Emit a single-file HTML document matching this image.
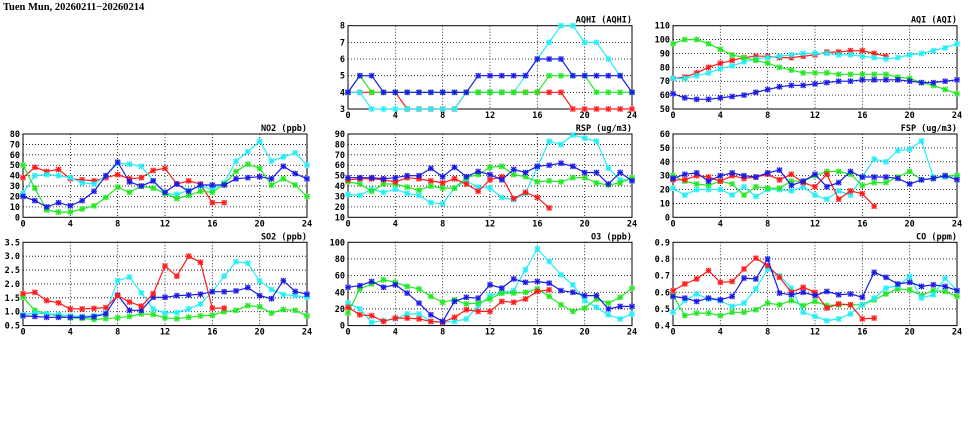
<!DOCTYPE html>
<html><head><meta charset="utf-8"><style>
html,body{margin:0;padding:0;background:#fff;}
svg{display:block;font-family:"DejaVu Sans Mono","Liberation Mono",monospace;}
</style></head><body>
<svg id="c" width="975" height="447">
<text x="3" y="10" font-size="10.5" font-family="Liberation Serif, serif" font-weight="bold">Tuen Mun, 20260211−20260214</text>
</svg>
<script>
const hours=[0,1,2,3,4,5,6,7,8,9,10,11,12,13,14,15,16,17,18,19,20,21,22,23,24];
const colors={red:"#ff1a1a",green:"#22e822",cyan:"#22eef6",blue:"#1a1ae6"};
const aqhiRed=[4,4,4,4,4,3,3,3,3,3,4,4,4,4,4,4,4,4,4,3,3,3,3,3,3];
const aqhiCyan=[4,4,3,3,3,3,3,3,3,3,4,4,4,4,4,5,6,7,8,8,7,7,6,5,4];
const aqhiGreen=[4,5,4,4,4,4,4,4,4,4,4,4,4,4,4,4,4,5,5,5,5,4,4,4,4];
const aqhiBlue=[4,5,5,4,4,4,4,4,4,4,4,5,5,5,5,5,6,6,6,5,5,5,5,5,4];
const aqiRed=[72,73,76,80,83,85,87,88,88,87,87,88,89,91,91,92,92,90,88];
const aqiCyan=[72,72,74,76,79,81,84,86,87,88,89,90,90,90,89,89,88,87,86,87,89,90,92,94,97];
const aqiGreen=[97,100,100,97,93,89,87,85,83,80,78,76,76,76,75,75,75,75,75,73,72,69,67,64,61];
const aqiBlue=[61,58,57,57,58,59,60,62,64,66,67,67,68,69,70,70,71,71,71,71,70,69,69,70,71];
const no2Red=[38,48,44,46,37,36,35,38,41,37,38,45,47,32,35,32,14,14];
const no2Cyan=[23,40,41,40,38,33,32,40,52,51,49,35,23,22,26,30,27,33,54,63,73,54,58,62,50];
const no2Green=[50,28,7,5,5,8,11,19,29,24,30,28,23,18,21,25,24,32,44,51,47,31,37,31,20];
const no2Blue=[20,16,10,14,11,16,25,40,53,34,30,35,24,32,25,31,31,31,37,38,39,37,49,42,37];
const rspRed=[46,47,47,46,44,48,47,45,43,47,42,35,46,49,28,34,29,19];
const rspCyan=[32,31,37,34,37,33,31,24,23,38,45,39,38,29,27,33,58,83,80,89,86,83,57,46,46];
const rspGreen=[44,42,35,42,42,39,36,40,38,38,48,51,58,59,51,49,44,45,44,48,48,43,41,43,48];
const rspBlue=[48,48,48,47,48,50,50,57,49,58,49,54,51,46,56,53,59,60,62,59,53,53,42,53,45];
const fspRed=[27,27,30,29,26,30,28,29,31,27,31,25,22,31,13,19,17,8];
const fspCyan=[21,16,20,20,20,16,22,15,20,20,19,22,16,13,19,16,29,42,40,48,49,55,29,29,30];
const fspGreen=[30,26,24,23,26,24,16,22,21,21,26,26,30,33,33,31,23,25,25,29,33,27,28,30,30];
const fspBlue=[28,31,32,26,30,32,30,29,32,34,23,26,31,22,25,33,29,29,29,28,24,27,28,30,27];
const so2Red=[1.65,1.7,1.4,1.32,1.1,1.1,1.12,1.15,1.58,1.35,1.2,1.65,2.65,2.28,3.0,2.78,1.13,1.13];
const so2Cyan=[0.9,0.95,0.92,0.9,0.85,0.83,0.85,0.95,2.12,2.25,1.68,1.1,0.95,0.97,1.1,1.28,1.72,2.28,2.8,2.75,2.1,1.8,1.62,1.58,1.52];
const so2Green=[1.52,1.05,0.92,0.85,0.78,0.76,0.72,0.75,0.78,0.83,0.92,0.9,0.78,0.75,0.8,0.85,0.87,1.0,1.05,1.22,1.18,0.95,1.08,1.05,0.85];
const so2Blue=[0.85,0.83,0.8,0.8,0.8,0.8,0.82,0.92,1.6,1.05,1.05,1.52,1.52,1.58,1.6,1.63,1.72,1.72,1.75,1.87,1.58,1.47,2.12,1.73,1.63];
const o3Red=[22,13,12,5,9,9,8,5,4,10,19,17,17,29,28,32,41,43];
const o3Cyan=[27,20,4,6,8,14,14,5,4,5,8,24,36,40,42,67,92,77,61,49,30,22,13,8,14];
const o3Green=[15,44,50,55,52,47,44,35,28,31,26,27,32,39,39,40,44,35,25,17,21,32,27,34,45];
const o3Blue=[46,48,53,46,49,39,27,13,5,29,34,33,49,45,56,52,53,51,42,40,36,36,20,23,23];
const coRed=[0.61,0.65,0.68,0.73,0.66,0.665,0.74,0.805,0.76,0.69,0.6,0.63,0.6,0.505,0.53,0.525,0.44,0.445];
const coCyan=[0.48,0.55,0.59,0.56,0.55,0.515,0.535,0.62,0.74,0.7,0.625,0.48,0.455,0.43,0.44,0.47,0.525,0.565,0.625,0.64,0.695,0.565,0.585,0.685,0.61];
const coGreen=[0.58,0.46,0.475,0.475,0.46,0.48,0.48,0.495,0.535,0.525,0.55,0.52,0.545,0.52,0.525,0.525,0.525,0.555,0.59,0.62,0.615,0.58,0.61,0.605,0.575];
const coBlue=[0.575,0.565,0.545,0.565,0.555,0.575,0.685,0.68,0.8,0.595,0.585,0.6,0.58,0.605,0.585,0.59,0.57,0.72,0.69,0.65,0.66,0.635,0.645,0.635,0.61];
const xTicks=[0,4,8,12,16,20,24];

const panels=[
 {name:"aqhi",title:"AQHI (AQHI)",col:1,row:0,min:3,max:8,step:1,dec:0,s:{red:aqhiRed,cyan:aqhiCyan,green:aqhiGreen,blue:aqhiBlue}},
 {name:"aqi",title:"AQI (AQI)",col:2,row:0,min:50,max:110,step:10,dec:0,s:{red:aqiRed,cyan:aqiCyan,green:aqiGreen,blue:aqiBlue}},
 {name:"no2",title:"NO2 (ppb)",col:0,row:1,min:0,max:80,step:10,dec:0,s:{red:no2Red,cyan:no2Cyan,green:no2Green,blue:no2Blue}},
 {name:"rsp",title:"RSP (ug/m3)",col:1,row:1,min:10,max:90,step:10,dec:0,s:{cyan:rspCyan,green:rspGreen,red:rspRed,blue:rspBlue}},
 {name:"fsp",title:"FSP (ug/m3)",col:2,row:1,min:0,max:60,step:10,dec:0,s:{cyan:fspCyan,green:fspGreen,red:fspRed,blue:fspBlue}},
 {name:"so2",title:"SO2 (ppb)",col:0,row:2,min:0.5,max:3.5,step:0.5,dec:1,s:{green:so2Green,cyan:so2Cyan,blue:so2Blue,red:so2Red}},
 {name:"o3",title:"O3 (ppb)",col:1,row:2,min:0,max:100,step:20,dec:0,s:{cyan:o3Cyan,green:o3Green,red:o3Red,blue:o3Blue}},
 {name:"co",title:"CO (ppm)",col:2,row:2,min:0.4,max:0.9,step:0.1,dec:1,s:{green:coGreen,cyan:coCyan,red:coRed,blue:coBlue}}
];
const NS="http://www.w3.org/2000/svg";
const svg=document.getElementById("c");
function mk(tag,attrs,parent){const e=document.createElementNS(NS,tag);for(const k in attrs)e.setAttribute(k,attrs[k]);parent.appendChild(e);return e;}
const rowTop=[25.7,134,242.3], H=83.3, W=284;
panels.forEach(p=>{
  const x0=23+p.col*325, y0=rowTop[p.row];
  const g=mk("g",{},svg);
  
  
  const sx=h=>x0+h/24*W;
  const sy=v=>y0+H-(v-p.min)/(p.max-p.min)*H;
  const n=Math.round((p.max-p.min)/p.step);
  for(let i=0;i<=n;i++){
    const v=p.min+i*p.step, y=sy(v);
    if(i>0&&i<n){const l=mk("line",{x1:x0,x2:x0+W,y1:y,y2:y,stroke:"#000","stroke-width":0.8,"stroke-dasharray":"1,2"},g);
      }
    const t=mk("text",{x:x0-3,y:y+3,"font-size":8.5,"font-weight":"bold","text-anchor":"end"},g);
    
    t.textContent=v.toFixed(p.dec);
  }
  xTicks.forEach(h=>{
    const x=sx(h);
    if(h>0&&h<24){const l=mk("line",{x1:x,x2:x,y1:y0,y2:y0+H,stroke:"#000","stroke-width":0.8,"stroke-dasharray":"1,2"},g);
      }
    const t=mk("text",{x:x,y:y0+H+9,"font-size":8.5,"font-weight":"bold","text-anchor":"middle"},g);
    
    t.textContent=h;
  });
  const fr=mk("rect",{x:x0,y:y0,width:W,height:H,fill:"none",stroke:"#000","stroke-width":1},g);
  
  const tt=mk("text",{x:x0+W,y:y0-3,"font-size":8.5,"font-weight":"bold","text-anchor":"end"},g);
  
  tt.textContent=p.title;
  for(const c in p.s){
    const vals=p.s[c], col=colors[c];
    const pts=vals.map((v,i)=>sx(hours[i]).toFixed(1)+","+sy(v).toFixed(1)).join(" ");
    const pl=mk("polyline",{points:pts,fill:"none",stroke:col,"stroke-width":1.2},g);
    
    vals.forEach((v,i)=>{
      const x=sx(hours[i]), y=sy(v);
      const m=mk("g",{},g);
      
      
      mk("rect",{x:x-2.8,y:y-2.8,width:5.6,height:5.6,fill:col,opacity:0.28},m);
      mk("path",{d:`M${x-2.4},${y-2.4}L${x+2.4},${y+2.4}M${x-2.4},${y+2.4}L${x+2.4},${y-2.4}M${x-2.8},${y}L${x+2.8},${y}M${x},${y-2.8}L${x},${y+2.8}`,stroke:col,"stroke-width":1.1},m);
    });
  }
});
</script>
</body></html>
